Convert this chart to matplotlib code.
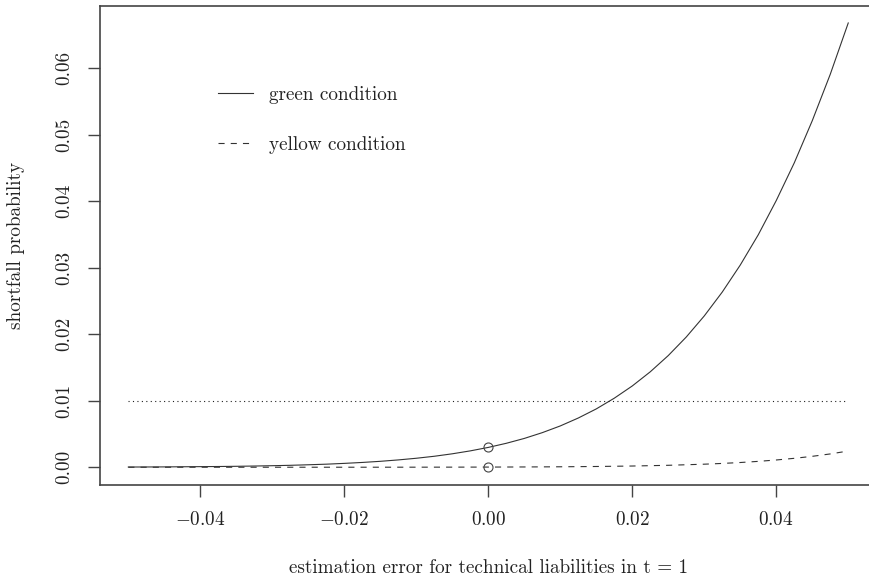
import matplotlib
matplotlib.use("Agg")
import matplotlib.pyplot as plt

plt.rcParams["font.family"] = "serif"
plt.rcParams["font.serif"] = ["cmr10"]
plt.rcParams["mathtext.fontset"] = "cm"
plt.rcParams["axes.formatter.use_mathtext"] = True

# values
green_x = [-0.05, -0.0475, -0.045, -0.0425, -0.04, -0.0375, -0.035, -0.0325,
           -0.03, -0.0275, -0.025, -0.0225, -0.02, -0.0175, -0.015, -0.0125,
           -0.01, -0.0075, -0.005, -0.0025, 0.0, 0.0025, 0.005, 0.0075,
           0.01, 0.0125, 0.015, 0.0175, 0.02, 0.0225, 0.025, 0.0275,
           0.03, 0.0325, 0.035, 0.0375, 0.04, 0.0425, 0.045, 0.0475, 0.05]
green_p = [0.00003, 0.00004, 0.00005, 0.00007, 0.00009, 0.00011, 0.00014, 0.00018,
           0.00023, 0.00029, 0.00037, 0.00046, 0.00058, 0.00072, 0.00089, 0.00110,
           0.00135, 0.00165, 0.00202, 0.00246, 0.00298, 0.00360, 0.00433, 0.00520,
           0.00621, 0.00740, 0.00877, 0.01038, 0.01222, 0.01435, 0.01679, 0.01958,
           0.02275, 0.02634, 0.03040, 0.03495, 0.04010, 0.04576, 0.05210, 0.05908,
           0.06680]

yellow_x = [-0.05, -0.045, -0.04, -0.035, -0.03, -0.025, -0.02, -0.015, -0.01,
            -0.005, 0.0, 0.005, 0.01, 0.015, 0.02, 0.025, 0.03, 0.0325, 0.035,
            0.0375, 0.04, 0.0425, 0.045, 0.0475, 0.05]
yellow_p = [0.0, 0.0, 0.0, 0.0, 0.0, 0.0, 0.000001, 0.000003, 0.000008,
            0.000014, 0.000024, 0.000041, 0.000068, 0.000112, 0.000182, 0.000291,
            0.000458, 0.000572, 0.000710, 0.000882, 0.00109, 0.00134, 0.00164,
            0.00200, 0.00244]

marked_x = [0.0, 0.0]
marked_p = [0.00298, 0.000024]

threshold = 0.01
threshold_x = [-0.05, 0.05]

x_ticks = [-0.04, -0.02, 0.00, 0.02, 0.04]
y_ticks = [0.00, 0.01, 0.02, 0.03, 0.04, 0.05, 0.06]

ink = "#222222"
fs = 13.8

fig = plt.figure(figsize=(8.7, 5.76), dpi=100)
ax = fig.add_axes([0.1144, 0.158, 0.8937, 0.831])

ax.plot(green_x, green_p, color="#333333", lw=0.8, label="green condition")
ax.plot(yellow_x, yellow_p, color="#333333", lw=0.8, linestyle=(0, (5.5, 5.5)),
        label="yellow condition")
ax.plot(threshold_x, [threshold, threshold], color=ink, lw=0.8,
        linestyle=(0, (1, 3)))
ax.plot(marked_x, marked_p, linestyle="none", marker="o", ms=6.5,
        mfc="none", mec="#444444", mew=0.8)

ax.set_xlim(-0.054, 0.054)
ax.set_ylim(-0.00267, 0.0693)
ax.set_xticks(x_ticks)
ax.set_yticks(y_ticks)
ax.set_xticklabels([f"${v:.2f}$" for v in x_ticks])
ax.set_yticklabels([f"{v:.2f}" for v in y_ticks], rotation=90, va="center")

for spine in ax.spines.values():
    spine.set_color("#444444")
    spine.set_linewidth(1.2)

ax.tick_params(axis="both", length=8.6, width=1.0, color="#444444",
               labelsize=fs, labelcolor=ink)
ax.tick_params(axis="x", pad=10)
ax.tick_params(axis="y", pad=10)

ax.set_xlabel("estimation error for technical liabilities in t = 1",
              fontsize=fs, color=ink, labelpad=22)
ax.set_ylabel("shortfall probability", fontsize=fs, color=ink, labelpad=22)

ax.legend(loc="upper left", bbox_to_anchor=(0.1524, 0.834), frameon=False,
          fontsize=fs, handlelength=1.83, handletextpad=0.83,
          labelspacing=1.67, borderpad=0, borderaxespad=0, labelcolor=ink)

fig.savefig("out.png", dpi=100)
